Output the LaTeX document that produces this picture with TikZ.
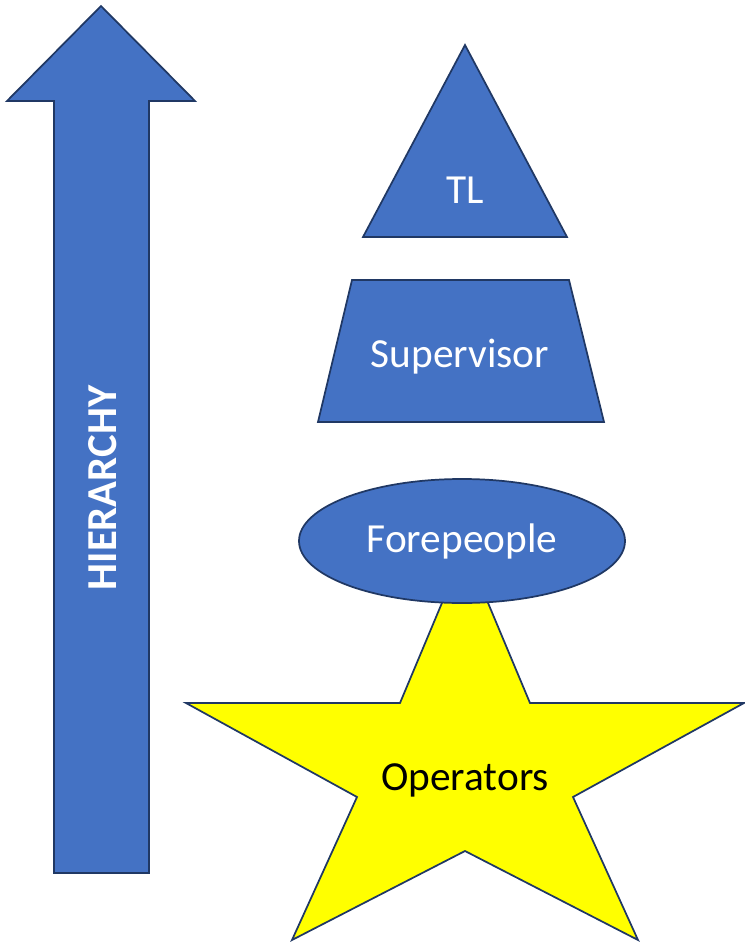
\documentclass[tikz,border=0pt]{standalone}
\usepackage{fontspec}
\setmainfont{Carlito}
\usetikzlibrary{positioning}
\definecolor{fillblue}{HTML}{4472C4}
\definecolor{edgeblue}{HTML}{203864}
\definecolor{staryellow}{HTML}{FFFF00}

\begin{document}
\begin{tikzpicture}[x=0.75pt, y=-0.75pt,
    blueshape/.style={fill=fillblue, draw=edgeblue, line width=1.3pt, line join=miter},
    yellowshape/.style={fill=staryellow, draw=edgeblue, line width=1.3pt, line join=miter},
    lbl/.style={font=\fontsize{31}{36}\selectfont, text=white, inner sep=0pt},
    arrowlbl/.style={font=\fontsize{32}{38}\selectfont\bfseries, text=white, inner sep=0pt, rotate=90} ]

    \useasboundingbox (0,0) rectangle (745,943);

    %Shapes
    \filldraw[blueshape] (101,6) -- (195,101) -- (149,101) -- (149,873) -- (54,873) -- (54,101) -- (7,101) -- cycle;
    \filldraw[blueshape] (465,45) -- (567,237) -- (363,237) -- cycle;
    \filldraw[blueshape] (352,280) -- (569,280) -- (604,422) -- (318,422) -- cycle;
    \filldraw[yellowshape] (465,548) -- (530,703) -- (744,703) -- (573,797) -- (638,940)
        -- (465,851) -- (292,940) -- (357,797) -- (186,703) -- (400,703) -- cycle;
    \filldraw[blueshape] (462,541) ellipse [x radius=163, y radius=62];

    %Labels
    \node[arrowlbl] (hierarchy) at (103,488) {HIERARCHY};
    \node[lbl] (tl) at (465,190) {TL};
    \node[lbl] (supervisor) at (460,357) {Supervisor};
    \node[lbl] (forepeople) at (462,541) {Forepeople};
    \node[lbl, text=black] (operators) at (465,780) {Operators};
\end{tikzpicture}
\end{document}
